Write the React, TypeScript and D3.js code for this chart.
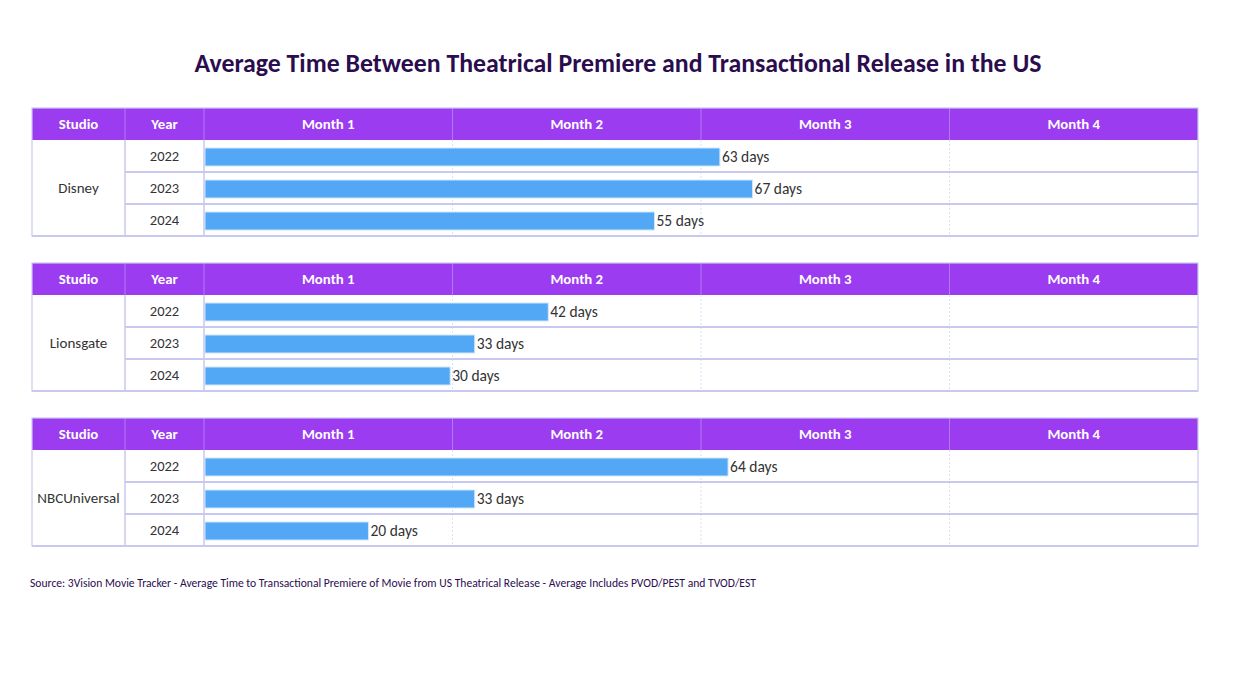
import React from 'react';
import * as d3 from 'd3';

const studios = ['Disney', 'Lionsgate', 'NBCUniversal'];
const years = ['2022', '2023', '2024'];
// days from theatrical premiere to transactional release, by studio then year
const disneyDays = [63, 67, 55];
const lionsgateDays = [42, 33, 30];
const nbcuDays = [64, 33, 20];
const months = ['Month 1', 'Month 2', 'Month 3', 'Month 4'];
const daysByStudio = [disneyDays, lionsgateDays, nbcuDays];

const W = 1235, H = 695;
const font = 'Calibri, Carlito, "Open Sans", sans-serif';
const purple = '#9b3cf0';
const grid = '#c9c9ef';

export default function App() {
  const left = 32, right = 1198;
  const studioW = 93, yearW = 79;
  const plotL = left + studioW + yearW;

  const monthX = d3.scaleBand<string>().domain(months).range([plotL, right]);
  const x = d3.scaleLinear().domain([0, 121.5]).range([plotL + 1, right]);

  const headerH = 32, rowH = 32;
  const tableY = d3.scaleBand<string>().domain(studios).range([108, 108 + 155 * 3]).paddingInner(0);
  const rowY = d3.scaleBand<string>().domain(years).range([headerH, headerH + rowH * 3]);

  return (
    <svg width={W} height={H} style={{ position: 'absolute', left: 0, top: 0, background: '#fff' }}>
      <text x={618} y={72} textAnchor="middle" fontFamily={font} fontWeight={700} fontSize={25.8}
        fill="#2b0d4f">
        Average Time Between Theatrical Premiere and Transactional Release in the US
      </text>

      {studios.map((studio, si) => {
        const ty = tableY(studio) as number;
        const bodyH = rowH * years.length;
        return (
          <g key={studio} transform={`translate(0,${ty})`}>
            {/* header */}
            <rect x={left} y={0} width={right - left} height={headerH} fill={purple} />
            {[left + studioW, plotL, ...months.slice(1).map((m) => monthX(m) as number)].map((vx, i) => (
              <line key={i} x1={vx} x2={vx} y1={0} y2={headerH} stroke="#b07af5" strokeWidth={1} />
            ))}
            {[
              { t: 'Studio', cx: left + studioW / 2 },
              { t: 'Year', cx: left + studioW + yearW / 2 },
              ...months.map((m) => ({ t: m, cx: (monthX(m) as number) + monthX.bandwidth() / 2 })),
            ].map((h) => (
              <text key={h.t} x={h.cx} y={headerH / 2 + 5} textAnchor="middle" fontFamily={font}
                fontWeight={700} fontSize={14.8} fill="#fff">{h.t}</text>
            ))}

            {/* month dividers in body */}
            {months.slice(1).map((m) => (
              <line key={m} x1={monthX(m)} x2={monthX(m)} y1={headerH} y2={headerH + bodyH}
                stroke="#d6d6f2" strokeWidth={0.8} strokeDasharray="2,2" />
            ))}

            {/* rows */}
            {years.map((yr, yi) => {
              const ry = rowY(yr) as number;
              const v = daysByStudio[si][yi];
              const barH = 18;
              const by = ry + (rowH - barH) / 2 + 1;
              return (
                <g key={yr}>
                  <text x={left + studioW + yearW / 2} y={ry + rowH / 2 + 5} textAnchor="middle"
                    fontFamily={font} fontSize={14.5} fill="#333">{yr}</text>
                  <rect x={x(0)} y={by} width={x(v) - x(0)} height={barH} fill="#52a8f5"
                    stroke="#cfe6fb" strokeWidth={1} />
                  <text x={x(v) + 2} y={ry + rowH / 2 + 5.5} fontFamily={font} fontSize={15.5}
                    fill="#333">{v} days</text>
                  {yi > 0 && (
                    <line x1={left + studioW} x2={right} y1={ry} y2={ry} stroke={grid} strokeWidth={2} />
                  )}
                </g>
              );
            })}

            <text x={left + studioW / 2} y={headerH + bodyH / 2 + 5} textAnchor="middle"
              fontFamily={font} fontSize={15} fill="#333">{studio}</text>

            {/* body borders */}
            <line x1={left + studioW} x2={left + studioW} y1={headerH} y2={headerH + bodyH} stroke={grid} strokeWidth={1.5} />
            <line x1={plotL} x2={plotL} y1={headerH} y2={headerH + bodyH} stroke={grid} strokeWidth={1.5} />
            <rect x={left} y={0} width={right - left} height={headerH + bodyH} fill="none" stroke={grid} strokeWidth={1.2} />
            <line x1={left} x2={right} y1={headerH + bodyH} y2={headerH + bodyH} stroke={grid} strokeWidth={2} />
          </g>
        );
      })}

      <text x={30} y={587} fontFamily={font} fontSize={11.6} fill="#2b0d4f">
        Source: 3Vision Movie Tracker - Average Time to Transactional Premiere of Movie from US Theatrical Release - Average Includes PVOD/PEST and TVOD/EST
      </text>
    </svg>
  );
}
